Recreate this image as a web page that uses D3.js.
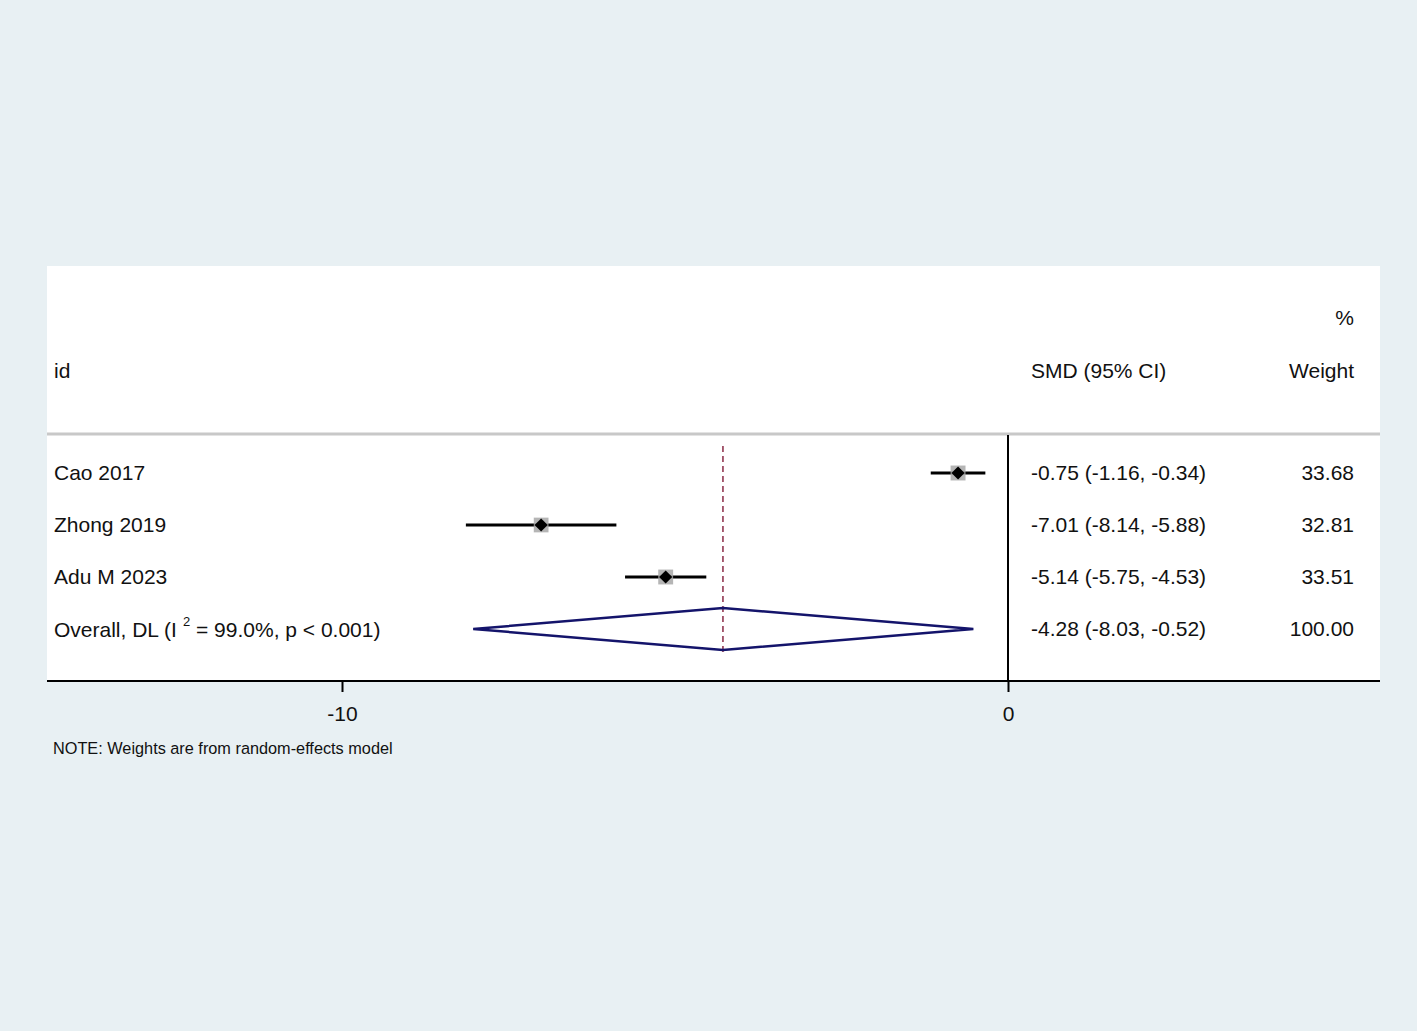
<!DOCTYPE html>
<html lang="en">
<head>
<meta charset="UTF-8">
<title>Forest plot</title>
<script src="https://d3js.org/d3.v7.min.js"></script>
<style>
  body { margin: 0; background: #e8f0f3; }
  svg text { font-family: "Liberation Sans", Arial, sans-serif; fill: #111; }
</style>
</head>
<body>
<svg width="1417" height="1031"></svg>
<script>
// study data
const studies = ["Cao 2017", "Zhong 2019", "Adu M 2023"];
const smd = [-0.75, -7.01, -5.14];
const lower = [-1.16, -8.14, -5.75];
const upper = [-0.34, -5.88, -4.53];
const weights = [33.68, 32.81, 33.51];

// pooled estimate
const overallLabel = "Overall, DL";
const overall = { est: -4.28, lo: -8.03, hi: -0.52, weight: 100.00, i2: "99.0%", p: "p < 0.001" };

const tickValues = [-10, 0];

const svg = d3.select("svg");
const panel = { left: 47, right: 1380, top: 266, bottom: 681, sep: 434 };

// scales
const x = d3.scaleLinear().domain([-10, 0]).range([342, 1008]);
const rowY = d3.scalePoint().domain([0, 1, 2, 3]).range([473, 629]);
const boxSize = d3.scaleSqrt().domain([0, 34]).range([0, 15]);

// plain hyphen instead of unicode minus, like the original
const fmt = v => v.toFixed(2);

// white plot region
svg.append("rect")
  .attr("x", panel.left).attr("y", panel.top)
  .attr("width", panel.right - panel.left)
  .attr("height", panel.bottom - panel.top)
  .attr("fill", "#fff");

// header
svg.append("text").attr("x", 54).attr("y", 371).attr("dy", "0.35em")
  .style("font-size", "21px").text("id");
svg.append("text").attr("x", 1031).attr("y", 371).attr("dy", "0.35em")
  .style("font-size", "21px").text("SMD (95% CI)");
svg.append("text").attr("x", 1354).attr("y", 371).attr("dy", "0.35em")
  .attr("text-anchor", "end").style("font-size", "21px").text("Weight");
svg.append("text").attr("x", 1354).attr("y", 318).attr("dy", "0.35em")
  .attr("text-anchor", "end").style("font-size", "21px").text("%");

// header separator
svg.append("line")
  .attr("x1", panel.left).attr("x2", panel.right)
  .attr("y1", panel.sep).attr("y2", panel.sep)
  .attr("stroke", "#c8c8c8").attr("stroke-width", 3);

// zero line
svg.append("line")
  .attr("x1", x(0)).attr("x2", x(0))
  .attr("y1", panel.sep + 1).attr("y2", panel.bottom)
  .attr("stroke", "#000").attr("stroke-width", 2);

// overall effect dashed line
svg.append("line")
  .attr("x1", x(overall.est)).attr("x2", x(overall.est))
  .attr("y1", 446).attr("y2", rowY(3) + 24)
  .attr("stroke", "#8b2a45").attr("stroke-width", 1.5)
  .attr("stroke-dasharray", "6,4");

const rows = studies.map((s, i) => ({ s, i, est: smd[i], lo: lower[i], hi: upper[i], w: weights[i] }));

const g = svg.append("g");
// CI lines
g.selectAll(".ci").data(rows).enter().append("line")
  .attr("x1", d => x(d.lo)).attr("x2", d => x(d.hi))
  .attr("y1", d => rowY(d.i)).attr("y2", d => rowY(d.i))
  .attr("stroke", "#000").attr("stroke-width", 3);
// weight boxes
g.selectAll(".box").data(rows).enter().append("rect")
  .attr("x", d => x(d.est) - boxSize(d.w) / 2)
  .attr("y", d => rowY(d.i) - boxSize(d.w) / 2)
  .attr("width", d => boxSize(d.w)).attr("height", d => boxSize(d.w))
  .attr("fill", "#a8a8a8").attr("opacity", 0.85);
// point estimates
g.selectAll(".pt").data(rows).enter().append("path")
  .attr("d", d3.symbol(d3.symbolDiamond2, 110))
  .attr("transform", d => `translate(${x(d.est)},${rowY(d.i)})`)
  .attr("fill", "#000");

// labels
g.selectAll(".lab").data(rows).enter().append("text")
  .attr("x", 54).attr("y", d => rowY(d.i)).attr("dy", "0.35em")
  .style("font-size", "21px").text(d => d.s);
g.selectAll(".ci-lab").data(rows).enter().append("text")
  .attr("x", 1031).attr("y", d => rowY(d.i)).attr("dy", "0.35em")
  .style("font-size", "21px")
  .text(d => `${fmt(d.est)} (${fmt(d.lo)}, ${fmt(d.hi)})`);
g.selectAll(".w-lab").data(rows).enter().append("text")
  .attr("x", 1354).attr("y", d => rowY(d.i)).attr("dy", "0.35em")
  .attr("text-anchor", "end").style("font-size", "21px")
  .text(d => fmt(d.w));

// overall diamond
const oy = rowY(3);
svg.append("path")
  .attr("d", d3.line()([
    [x(overall.lo), oy], [x(overall.est), oy - 21],
    [x(overall.hi), oy], [x(overall.est), oy + 21]
  ]) + "Z")
  .attr("fill", "none").attr("stroke", "#14146b").attr("stroke-width", 2.5);

const ot = svg.append("text").attr("x", 54).attr("y", oy + 7.5)
  .style("font-size", "21px");
ot.append("tspan").text(overallLabel + " (I");
ot.append("tspan").attr("dx", 6).attr("dy", -11).style("font-size", "13px").text("2");
ot.append("tspan").attr("dy", 11).text(` = ${overall.i2}, ${overall.p})`);
svg.append("text").attr("x", 1031).attr("y", oy).attr("dy", "0.35em")
  .style("font-size", "21px")
  .text(`${fmt(overall.est)} (${fmt(overall.lo)}, ${fmt(overall.hi)})`);
svg.append("text").attr("x", 1354).attr("y", oy).attr("dy", "0.35em")
  .attr("text-anchor", "end").style("font-size", "21px").text(fmt(overall.weight));

// x axis
svg.append("line")
  .attr("x1", panel.left).attr("x2", panel.right)
  .attr("y1", panel.bottom).attr("y2", panel.bottom)
  .attr("stroke", "#000").attr("stroke-width", 2);
const axis = svg.append("g")
  .attr("transform", `translate(0,${panel.bottom})`)
  .call(d3.axisBottom(x).tickValues(tickValues).tickSize(11).tickPadding(14).tickFormat(d => String(d)));
axis.select(".domain").remove();
axis.selectAll(".tick line").attr("stroke-width", 2);
axis.selectAll(".tick text")
  .style("font-size", "21px").style("font-family", "Liberation Sans, Arial, sans-serif").attr("fill", "#111");

// note
svg.append("text").attr("x", 53).attr("y", 748).attr("dy", "0.35em")
  .style("font-size", "16.3px").text("NOTE: Weights are from random-effects model");
</script>
</body>
</html>
